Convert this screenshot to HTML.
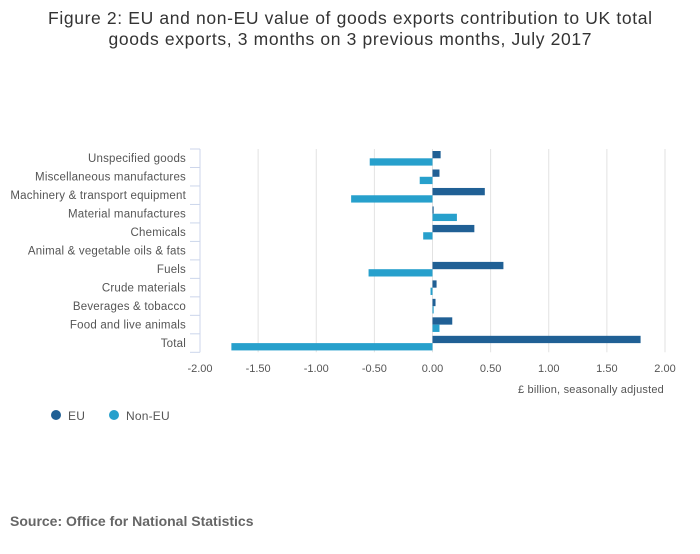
<!DOCTYPE html>
<html><head><meta charset="utf-8"><style>
body{margin:0;background:#fff;font-family:"Liberation Sans",sans-serif;}
</style></head><body>
<svg width="700" height="549" id="c" font-family="Liberation Sans, sans-serif">
<text x="350" y="24" text-anchor="middle" font-size="17.5" fill="#333" textLength="604" lengthAdjust="spacing">Figure 2: EU and non-EU value of goods exports contribution to UK total</text>
<text x="350" y="45" text-anchor="middle" font-size="17.5" fill="#333" textLength="483" lengthAdjust="spacing">goods exports, 3 months on 3 previous months, July 2017</text>
<g id="grid"></g><g id="bars"></g><g id="axes"></g>
<text x="664" y="393" text-anchor="end" font-size="11" letter-spacing="0.2" fill="#555">£ billion, seasonally adjusted</text>
<circle cx="56" cy="415" r="5" fill="#206095"/>
<text x="68" y="420" font-size="12" letter-spacing="0.2" fill="#555">EU</text>
<circle cx="114" cy="415" r="5" fill="#27a0cc"/>
<text x="126" y="420" font-size="12" letter-spacing="0.2" fill="#555">Non-EU</text>
<text x="10" y="526" font-size="14" font-weight="bold" fill="#666">Source: Office for National Statistics</text>
</svg>
<script>
const categories=["Unspecified goods","Miscellaneous manufactures","Machinery & transport equipment","Material manufactures","Chemicals","Animal & vegetable oils & fats","Fuels","Crude materials","Beverages & tobacco","Food and live animals","Total"];
const euValues=[0.07,0.06,0.45,0.01,0.36,0,0.61,0.035,0.026,0.17,1.79];
const nonEuValues=[-0.54,-0.11,-0.70,0.21,-0.08,0,-0.55,-0.017,0.01,0.06,-1.73];
const xTicks=[-2,-1.5,-1,-0.5,0,0.5,1,1.5,2];
const NS="http://www.w3.org/2000/svg";
const x0=200,x1=665,plotTop=149,plotBottom=352.3;
const xs=v=>x0+(v+2)/4*(x1-x0);
const band=(plotBottom-plotTop)/categories.length;
const ys=i=>plotTop+i*band;
function mk(t,a,p){const e=document.createElementNS(NS,t);for(const k in a)e.setAttribute(k,a[k]);p.appendChild(e);return e;}
const g=document.getElementById('grid'),b=document.getElementById('bars'),ax=document.getElementById('axes');
xTicks.forEach(v=>{
 if(v>-2){const l=mk('line',{x1:xs(v),x2:xs(v),y1:plotTop,y2:plotBottom,stroke:'#e2e2e2','stroke-width':1},g);
 
 }
 const t=mk('text',{x:xs(v),y:372,'text-anchor':'middle','font-size':11,fill:'#555'},ax);
 t.textContent=v.toFixed(2);
 
 
});
const al=mk('line',{x1:x0,x2:x0,y1:plotTop,y2:plotBottom,stroke:'#ccd6eb','stroke-width':1},ax);


categories.forEach((c,i)=>{
 const tk=mk('line',{x1:x0-10,x2:x0,y1:ys(i),y2:ys(i),stroke:'#ccd6eb'},ax);
 
 
 const t=mk('text',{x:186,y:ys(i)+band/2+4,'text-anchor':'end','font-size':11.5,'letter-spacing':0.2,fill:'#555'},ax);
 t.textContent=c;
 
 
 const e=euValues[i],n=nonEuValues[i];
 const r1=mk('rect',{x:Math.min(xs(0),xs(e)),y:ys(i)+2,width:Math.abs(xs(e)-xs(0)),height:7.3,fill:'#206095'},b);
 
 
 const r2=mk('rect',{x:Math.min(xs(0),xs(n)),y:ys(i)+9.3,width:Math.abs(xs(n)-xs(0)),height:7.3,fill:'#27a0cc'},b);
 
 
});
const bt=mk('line',{x1:x0-10,x2:x0,y1:plotBottom,y2:plotBottom,stroke:'#ccd6eb'},ax);


</script>
</body></html>
